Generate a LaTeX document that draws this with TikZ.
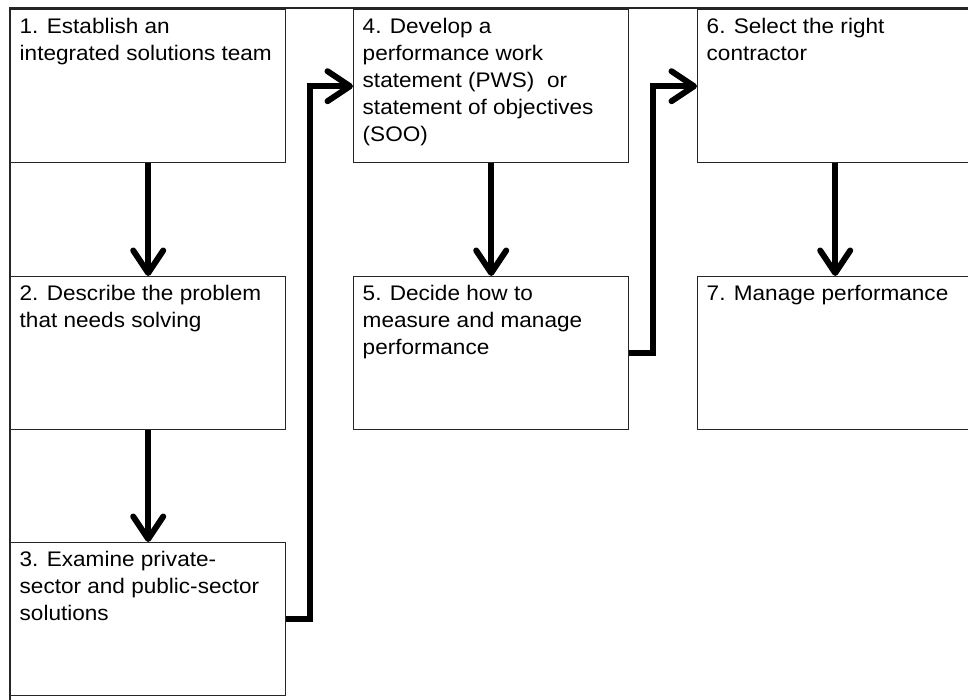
\documentclass[tikz,border=0pt]{standalone}
\usepackage{fontspec}
\setmainfont[FakeStretch=1.07]{Liberation Sans}
\usetikzlibrary{arrows.meta}
\newcommand{\boxtext}[1]{\parbox[c][2.7cm][t]{5.14cm}{\raggedright #1}}
\tikzset{
	stepbox/.style={draw=black!85, line width=0.8pt, inner sep=0.18cm, anchor=north west, font=\fontsize{12pt}{15.3pt}\selectfont},
	flow/.style={line width=3.4pt, -{Straight Barb[length=0.45cm, width=0.6cm, round]}},
}

\begin{document}
\begin{tikzpicture}
		%%%%% START %%%%%
		
		\useasboundingbox (0, 0) rectangle (19.36, 14);
		\draw[line width=0.8pt, color=black!85] (0.2, 0) -- (0.2, 13.84) -- (19.36, 13.84);
		
		\node[stepbox] (establish) at (0.2, 13.82) {\boxtext{1. Establish an\\integrated solutions team}};
		\node[stepbox] (describe) at (0.2, 8.48) {\boxtext{2. Describe the problem\\that needs solving}};
		\node[stepbox] (examine) at (0.2, 3.16) {\boxtext{3. Examine private-\\sector and public-sector\\solutions}};
		
		\node[stepbox] (develop) at (7.06, 13.82) {\boxtext{4. Develop a\\performance work\\statement (PWS)~ or\\statement of objectives\\(SOO)}};
		\node[stepbox] (decide) at (7.06, 8.48) {\boxtext{5. Decide how to\\measure and manage\\performance}};
		
		\node[stepbox] (select) at (13.94, 13.82) {\boxtext{6. Select the right\\contractor}};
		\node[stepbox] (manage) at (13.94, 8.48) {\boxtext{7. Manage performance}};
		
		\draw[flow] (establish.south) -- (describe.north);
		\draw[flow] (describe.south) -- (examine.north);
		\draw[flow] (develop.south) -- (decide.north);
		\draw[flow] (select.south) -- (manage.north);
		
		\draw[flow] (examine.east) -- ++(0.48, 0) |- (develop.west);
		\draw[flow] (decide.east) -- ++(0.48, 0) |- (select.west);
		
		%%%%% END %%%%%
	\end{tikzpicture}
\end{document}
